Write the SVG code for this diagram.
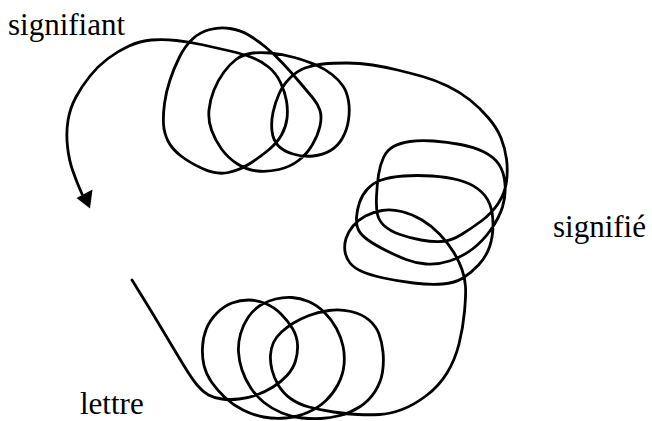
<svg xmlns="http://www.w3.org/2000/svg" width="652" height="421" viewBox="0 0 652 421">
<style>
.stroke{fill:none;stroke:#000;stroke-width:2.8;stroke-linecap:round;stroke-linejoin:round}
</style>
<rect width="652" height="421" fill="#fff"/>
<g id="connectors">
<path class="stroke" d="M132,280 L142.5,297 Q153,314 164,332.5 Q175,351 183.5,365 Q192,379 197.5,385.5 Q203,392 208.5,395 Q214,398 222,399 Q230,400 239,399 Q248,398 256.5,395 Q265,392 273,387 Q281,382 287,375.5 Q293,369 295.5,361 Q298,353 297.5,344.5 Q297,336 292.5,328.5 Q288,321 281,314 Q274,307 265.5,303.5 Q257,300 248.5,300 Q240,300 232,303 Q224,306 217,313 Q210,320 206.5,328.5 Q203,337 202.5,347 Q202,357 204,365.5 Q206,374 211.5,382 Q217,390 225,397.5 Q233,405 243,410 Q253,415 263.5,417 Q274,419 285.5,418 Q297,417 307.5,412.5 Q318,408 325.5,401 Q333,394 338,384.5 Q343,375 344,365 Q345,355 343,346 Q341,337 336.5,328.5 Q332,320 324.5,312.5 Q317,305 308.5,301.5 Q300,298 292,297.5 Q284,297 275.5,299 Q267,301 260,305.5 Q253,310 248,317.5 Q243,325 240.5,334 Q238,343 238.5,352 Q239,361 242,370 Q245,379 250.5,387.5 Q256,396 264,402.5 Q272,409 282,413 Q292,417 302,418 Q312,419 321,418.5 Q330,418 340,415.5 Q350,413 359.5,407 Q369,401 375,391.5 Q381,382 382.5,372 Q384,362 383,352 Q382,342 379,334 Q376,326 369,320 Q362,314 351,311.5 Q340,309 329,310.5 Q318,312 309,315.5 Q300,319 293.5,323 Q287,327 281.5,332 Q276,337 273.5,342.5 Q271,348 270.5,355 Q270,362 272,370 Q274,378 278.5,385.5 Q283,393 290.5,398.5 Q298,404 309,407 Q320,410 333.5,412 Q347,414 358,414.5 Q369,415 379.5,414.5 Q390,414 402,409.5 Q414,405 426.5,395.5 Q439,386 447,373 Q455,360 459,344 Q463,328 464.5,311.5 Q466,295 465.5,286.5 Q465,278 462,269.5 Q459,261 453.5,252 Q448,243 440,234.5 Q432,226 422,220 Q412,214 401.5,211.5 Q391,209 382,210.5 Q373,212 365.5,216 Q358,220 353,226 Q348,232 346,238.5 Q344,245 345,251.5 Q346,258 350,263 Q354,268 362,271.5 Q370,275 383.5,278 Q397,281 413.5,283 Q430,285 442.5,284 Q455,283 463,278 Q471,273 478.5,265 Q486,257 489.5,247 Q493,237 493,224.5 Q493,212 489.5,203.5 Q486,195 478,189 Q470,183 458.5,180 Q447,177 432,176 Q417,175 403.5,176 Q390,177 381.5,180 Q373,183 367.5,189 Q362,195 359.5,202.5 Q357,210 356.5,217.5 Q356,225 358.5,230 Q361,235 368,240 Q375,245 386,250.5 Q397,256 406,259.5 Q415,263 426,264 Q437,265 449.5,261 Q462,257 472.5,249 Q483,241 491,229.5 Q499,218 502.5,207 Q506,196 505,184 Q504,172 499,164.5 Q494,157 484,152 Q474,147 460.5,144.5 Q447,142 433.5,141 Q420,140 410,141.5 Q400,143 393.5,146.5 Q387,150 383.5,157.5 Q380,165 378.5,175 Q377,185 376.5,196.5 Q376,208 377.5,214.5 Q379,221 384.5,226 Q390,231 400,234.5 Q410,238 421,240 Q432,242 441.5,241.5 Q451,241 461.5,234.5 Q472,228 482,220.5 Q492,213 498.5,203 Q505,193 506.5,181.5 Q508,170 506.5,159 Q505,148 501,138 Q497,128 488.5,118 Q480,108 470,100 Q460,92 447.5,86 Q435,80 422.5,76.5 Q410,73 397.5,70 Q385,67 372.5,65 Q360,63 346.5,63 Q333,63 323,64 Q313,65 305,68 Q297,71 290,78 Q283,85 279,94 Q275,103 273,112.5 Q271,122 272,131 Q273,140 278,145.5 Q283,151 293,154 Q303,157 313,156 Q323,155 330.5,150.5 Q338,146 342.5,138 Q347,130 348.5,120 Q350,110 348.5,101 Q347,92 343,86 Q339,80 332,74.5 Q325,69 316,65 Q307,61 294.5,57.5 Q282,54 270,53 Q258,52 250,53.5 Q242,55 236,59.5 Q230,64 224,72 Q218,80 214,90 Q210,100 209,110 Q208,120 211.5,130 Q215,140 221.5,149 Q228,158 237.5,164 Q247,170 257.5,171 Q268,172 279,169.5 Q290,167 298.5,160.5 Q307,154 312.5,144.5 Q318,135 320,126 Q322,117 320,110.5 Q318,104 312.5,97.5 Q307,91 299,81.5 Q291,72 282.5,63 Q274,54 265.5,47 Q257,40 248.5,35 Q240,30 230,28.5 Q220,27 210,29.5 Q200,32 192.5,39 Q185,46 179.5,57 Q174,68 170,80 Q166,92 164.5,103.5 Q163,115 163.5,124 Q164,133 168,141 Q172,149 181,156 Q190,163 203.5,169 Q217,175 228.5,172.5 Q240,170 250,163.5 Q260,157 268.5,150 Q277,143 281.5,135 Q286,127 287,118.5 Q288,110 286.5,101 Q285,92 280.5,82.5 Q276,73 268.5,67 Q261,61 252,57.5 Q243,54 230,51 Q217,48 203.5,45 Q190,42 176.5,40.5 Q163,39 151.5,40 Q140,41 129,46 Q118,51 108,58.5 Q98,66 90,76 Q82,86 76,97 Q70,108 68,120.5 Q66,133 67.5,146.5 Q69,160 72.5,170 Q76,180 79,187 L82,194"/>
<polygon points="90,208.5 76.5,198 92.5,189.5" fill="#000"/>
</g>
<g id="signifiant"><text x="8" y="35" font-family="'Liberation Serif', 'Times New Roman', serif" font-size="31" fill="#000">signifiant</text></g>
<g id="signifie"><text x="553" y="237" font-family="'Liberation Serif', 'Times New Roman', serif" font-size="31" fill="#000">signifié</text></g>
<g id="lettre"><text x="80" y="414" font-family="'Liberation Serif', 'Times New Roman', serif" font-size="31" fill="#000">lettre</text></g>
</svg>
